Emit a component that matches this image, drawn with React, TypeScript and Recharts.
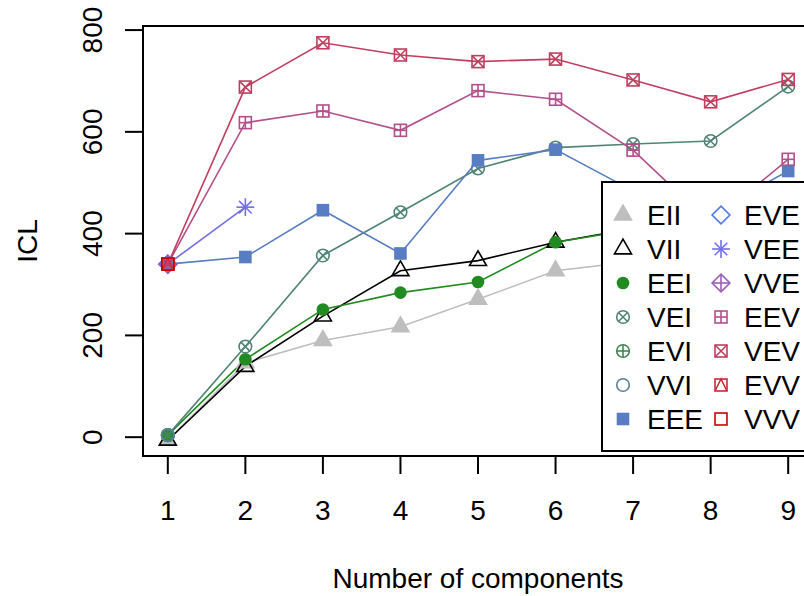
import React from "react"
import { LineChart, Line, XAxis, YAxis, ReferenceArea, Label } from "recharts"

// number of mixture components on the x axis
const components = [1, 2, 3, 4, 5, 6, 7, 8, 9]
const xTicks = [1, 2, 3, 4, 5, 6, 7, 8, 9]
const yTicks = [0, 200, 400, 600, 800]

// ICL values per covariance model (null = not fitted)
const EII = [-6, 146, 190, 217, 271, 327, 345, 360, 372]
const VII = [-6, 139, 238, 327, 347, 383, 410, 425, 440]
const EEI = [4, 153, 251, 284, 305, 383, 408, 420, 445]
const VEI = [4, 178, 357, 442, 528, 569, 576, 582, 689]
const EVI = [4, null, null, null, null, null, null, null, null]
const VVI = [4, null, null, null, null, null, null, null, null]
const EEE = [340, 354, 446, 361, 544, 565, 484, 440, 523]
const EVE = [340, null, null, null, null, null, null, null, null]
const VEE = [340, 452, null, null, null, null, null, null, null]
const VVE = [340, null, null, null, null, null, null, null, null]
const EEV = [340, 618, 641, 603, 681, 664, 564, 420, 546]
const VEV = [340, 688, 775, 751, 738, 743, 702, 659, 703]
const EVV = [340, null, null, null, null, null, null, null, null]
const VVV = [340, null, null, null, null, null, null, null, null]

type Shape =
  | "triFill" | "tri" | "dot" | "circX" | "circPlus" | "circ" | "sqFill"
  | "diamond" | "star" | "diamPlus" | "sqPlus" | "sqX" | "sqTri" | "sq"

const series: { name: string; values: (number | null)[]; color: string; shape: Shape }[] = [
  { name: "EII", values: EII, color: "#bebebe", shape: "triFill" },
  { name: "VII", values: VII, color: "#000000", shape: "tri" },
  { name: "EEI", values: EEI, color: "#218B21", shape: "dot" },
  { name: "VEI", values: VEI, color: "#508476", shape: "circX" },
  { name: "EVI", values: EVI, color: "#41884F", shape: "circPlus" },
  { name: "VVI", values: VVI, color: "#58819C", shape: "circ" },
  { name: "EEE", values: EEE, color: "#597DC3", shape: "sqFill" },
  { name: "EVE", values: EVE, color: "#5178EA", shape: "diamond" },
  { name: "VEE", values: VEE, color: "#716EE7", shape: "star" },
  { name: "VVE", values: VVE, color: "#9B60B8", shape: "diamPlus" },
  { name: "EEV", values: EEV, color: "#B2508B", shape: "sqPlus" },
  { name: "VEV", values: VEV, color: "#C03F60", shape: "sqX" },
  { name: "EVV", values: EVV, color: "#C82A36", shape: "sqTri" },
  { name: "VVV", values: VVV, color: "#CC0000", shape: "sq" },
]

const data = components.map((k, i) => {
  const row: Record<string, number | null> = { k }
  series.forEach((s) => (row[s.name] = s.values[i]))
  return row
})

const FONT = "'Liberation Sans', Arial, sans-serif"
const R = 6.3
const SW = 1.6

function marker(shape: Shape, color: string, x: number, y: number) {
  const h = R * 0.95
  const d = R * Math.SQRT2
  switch (shape) {
    case "triFill":
    case "tri": {
      const pts = `${x},${y - 1.555 * R} ${x + 1.347 * R},${y + 0.778 * R} ${x - 1.347 * R},${y + 0.778 * R}`
      return <polygon points={pts} fill={shape === "triFill" ? color : "none"} stroke={color} strokeWidth={SW} />
    }
    case "dot":
      return <circle cx={x} cy={y} r={R} fill={color} />
    case "circ":
      return <circle cx={x} cy={y} r={R} fill="none" stroke={color} strokeWidth={SW} />
    case "circX": {
      const a = R * 0.75
      return (
        <g stroke={color} strokeWidth={SW} fill="none">
          <circle cx={x} cy={y} r={R} />
          <line x1={x - a} y1={y - a} x2={x + a} y2={y + a} />
          <line x1={x - a} y1={y + a} x2={x + a} y2={y - a} />
        </g>
      )
    }
    case "circPlus":
      return (
        <g stroke={color} strokeWidth={SW} fill="none">
          <circle cx={x} cy={y} r={R} />
          <line x1={x - R} y1={y} x2={x + R} y2={y} />
          <line x1={x} y1={y - R} x2={x} y2={y + R} />
        </g>
      )
    case "sqFill":
      return <rect x={x - R} y={y - R} width={2 * R} height={2 * R} fill={color} />
    case "sq":
      return <rect x={x - h} y={y - h} width={2 * h} height={2 * h} fill="none" stroke={color} strokeWidth={SW} />
    case "sqPlus":
      return (
        <g stroke={color} strokeWidth={SW} fill="none">
          <rect x={x - h} y={y - h} width={2 * h} height={2 * h} />
          <line x1={x - h} y1={y} x2={x + h} y2={y} />
          <line x1={x} y1={y - h} x2={x} y2={y + h} />
        </g>
      )
    case "sqX":
      return (
        <g stroke={color} strokeWidth={SW} fill="none">
          <rect x={x - h} y={y - h} width={2 * h} height={2 * h} />
          <line x1={x - h} y1={y - h} x2={x + h} y2={y + h} />
          <line x1={x - h} y1={y + h} x2={x + h} y2={y - h} />
        </g>
      )
    case "sqTri":
      return (
        <g stroke={color} strokeWidth={SW} fill="none">
          <rect x={x - h} y={y - h} width={2 * h} height={2 * h} />
          <polyline points={`${x - h},${y + h} ${x},${y - h} ${x + h},${y + h}`} />
        </g>
      )
    case "diamond":
      return (
        <polygon points={`${x},${y - d} ${x + d},${y} ${x},${y + d} ${x - d},${y}`} fill="none" stroke={color} strokeWidth={SW} />
      )
    case "diamPlus":
      return (
        <g stroke={color} strokeWidth={SW} fill="none">
          <polygon points={`${x},${y - d} ${x + d},${y} ${x},${y + d} ${x - d},${y}`} />
          <line x1={x - d} y1={y} x2={x + d} y2={y} />
          <line x1={x} y1={y - d} x2={x} y2={y + d} />
        </g>
      )
    case "star":
      return (
        <g stroke={color} strokeWidth={SW}>
          <line x1={x - d} y1={y} x2={x + d} y2={y} />
          <line x1={x} y1={y - d} x2={x} y2={y + d} />
          <line x1={x - R} y1={y - R} x2={x + R} y2={y + R} />
          <line x1={x - R} y1={y + R} x2={x + R} y2={y - R} />
        </g>
      )
  }
  return null
}

function XTick(props: any) {
  const { x, y, payload } = props
  return (
    <text x={x} y={y + 46} textAnchor="middle" fontFamily={FONT} fontSize={28} fill="#000">
      {payload.value}
    </text>
  )
}

function YTick(props: any) {
  const { x, y, payload } = props
  const bx = x - 23
  return (
    <text x={bx} y={y} transform={`rotate(-90 ${bx} ${y})`} textAnchor="middle" fontFamily={FONT} fontSize={28} fill="#000">
      {payload.value}
    </text>
  )
}

function ChartLegend() {
  const col1 = series.slice(0, 7)
  const col2 = series.slice(7)
  return (
    <svg width={240} height={271} style={{ position: "absolute", left: 601, top: 181 }}>
      <rect x={1} y={1} width={260} height={269} fill="#fff" stroke="#000" strokeWidth={2} />
      {col1.map((s, i) => (
        <g key={s.name}>
          {marker(s.shape, s.color, 22, 34 + 34 * i)}
          <text x={46} y={44 + 34 * i} fontFamily={FONT} fontSize={28} fill="#000">{s.name}</text>
        </g>
      ))}
      {col2.map((s, i) => (
        <g key={s.name}>
          {marker(s.shape, s.color, 120, 34 + 34 * i)}
          <text x={143} y={44 + 34 * i} fontFamily={FONT} fontSize={28} fill="#000">{s.name}</text>
        </g>
      ))}
    </svg>
  )
}

export default function App() {
  return (
    <div style={{ position: "fixed", left: 0, top: 0, width: 804, height: 596, overflow: "hidden", background: "#fff" }}>
      <LineChart width={830} height={596} data={data} margin={{ top: 26, right: 17, left: 0, bottom: 0 }}>
        <XAxis
          dataKey="k"
          type="number"
          domain={[0.68, 9.32]}
          allowDataOverflow
          ticks={xTicks}
          height={140}
          tickSize={18}
          tickMargin={0}
          axisLine={false}
          tickLine={{ stroke: "#000", strokeWidth: 2 }}
          tick={<XTick />}
        >
          <Label
            content={(p: any) => (
              <text x={p.viewBox.x + p.viewBox.width / 2} y={p.viewBox.y + 132} textAnchor="middle" fontFamily={FONT} fontSize={28} fill="#000">
                Number of components
              </text>
            )}
          />
        </XAxis>
        <YAxis
          type="number"
          domain={[-37, 808]}
          allowDataOverflow
          ticks={yTicks}
          width={143}
          tickSize={18}
          tickMargin={0}
          axisLine={false}
          tickLine={{ stroke: "#000", strokeWidth: 2 }}
          tick={<YTick />}
        >
          <Label
            content={(p: any) => {
              const cx = 37
              const cy = p.viewBox.y + p.viewBox.height / 2
              return (
                <text x={cx} y={cy} transform={`rotate(-90 ${cx} ${cy})`} textAnchor="middle" fontFamily={FONT} fontSize={28} fill="#000">
                  ICL
                </text>
              )
            }}
          />
        </YAxis>
        <ReferenceArea x1={0.68} x2={9.32} y1={-37} y2={808} fill="none" stroke="#000" strokeWidth={2} ifOverflow="visible" />
        {series.map((s) => (
          <Line
            key={s.name}
            dataKey={s.name}
            type="linear"
            stroke={s.color}
            strokeWidth={1.6}
            connectNulls={false}
            isAnimationActive={false}
            activeDot={false}
            dot={(p: any) => {
              if (p.value == null || p.cy == null || isNaN(p.cy)) return <g key={p.index} />
              return <g key={p.index}>{marker(s.shape, s.color, p.cx, p.cy)}</g>
            }}
          />
        ))}
      </LineChart>
      <ChartLegend />
    </div>
  )
}
